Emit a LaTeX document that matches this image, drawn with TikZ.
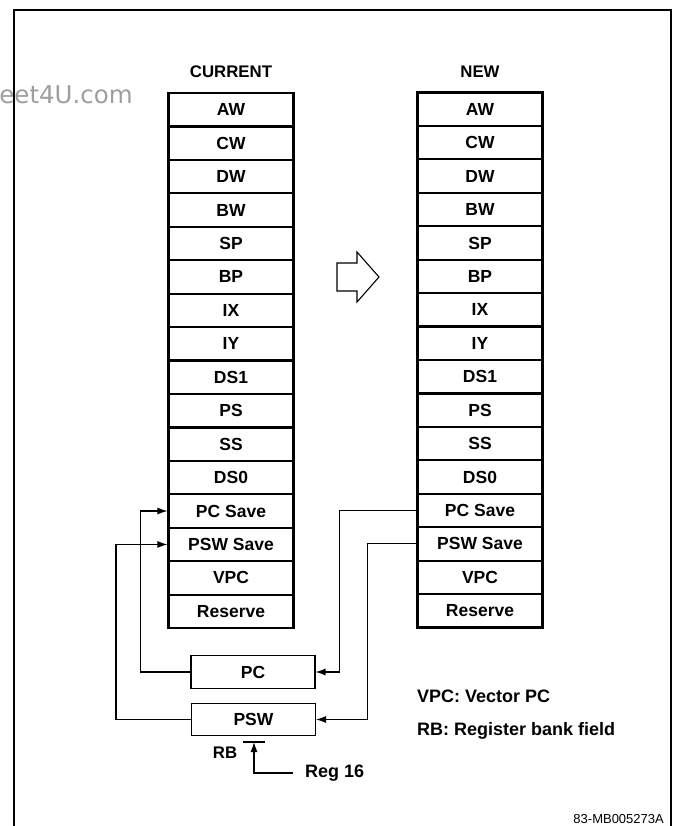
\documentclass[tikz,border=0pt]{standalone}
\usepackage{fontspec}
\setmainfont{Liberation Sans}
\newfontfamily\wmfont{DejaVu Sans}
\usetikzlibrary{arrows.meta}
\begin{document}
\begin{tikzpicture}[x=1pt,y=-1pt,
  reg/.style={draw,line width=2.2pt,minimum width=125pt,minimum height=33.44pt,inner sep=0pt,font=\bfseries\fontsize{17.5}{19}\selectfont},
  smallbox/.style={draw,line width=1.1pt,minimum width=124pt,minimum height=32.5pt,inner sep=0pt,font=\bfseries\fontsize{17.5}{19}\selectfont},
  conn/.style={line width=1.1pt,-{Latex[length=10pt,width=7pt]}},
  lbl/.style={font=\bfseries\fontsize{16.8}{18}\selectfont,inner sep=0pt},
  legend/.style={font=\bfseries\fontsize{18}{20}\selectfont,inner sep=0pt}
]
\useasboundingbox (0,0) rectangle (673,826);
\draw[line width=1.5pt] (14,826) -- (14,10) -- (671,10) -- (671,826);
\node[anchor=base east, text=black!38, font=\wmfont\fontsize{24.5}{26}\selectfont, inner sep=0pt] (wm) at (133,104) {eet4U.com};
\node[lbl] (cur) at (231,72) {CURRENT};
\node[lbl] (new) at (480,72) {NEW};
\foreach [count=\i from 0] \t in {AW,CW,DW,BW,SP,BP,IX,IY,DS1,PS,SS,DS0,PC Save,PSW Save,VPC,Reserve} {
  \node[reg] (L\i) at (231,{93+33.44*(\i+0.5)}) {\t};
  \node[reg] (R\i) at (480,{92.5+33.44*(\i+0.5)}) {\t};
}
\draw[line width=1.1pt, line join=miter] (337,263) -- (357,263) -- (357,252) -- (379,277) -- (357,302) -- (357,291) -- (337,291) -- cycle;
\node[smallbox] (pc) at (253,672) {PC};
\node[smallbox] (psw) at (253.5,719.5) {PSW};
\draw[conn] (pc.west) -- ++(-50,0) |- (L12.west);
\draw[conn] (psw.west) -- ++(-75,0) |- (L13.west);
\draw[conn] (R12.west) -- ++(-77,0) |- (pc.east);
\draw[conn] (R13.west) -- ++(-49,0) |- (psw.east);
\node[lbl, anchor=base] (rb) at (225,758) {RB};
\coordinate (rbl) at (243,742);
\coordinate (rbr) at (265,742);
\coordinate (rbm) at (254,742);
\draw[line width=1.1pt] (rbl) -- (rbr);
\node[legend, anchor=west] (reg) at (305,773) {Reg 16};
\draw[conn] ([xshift=-12pt]reg.west) -| (rbm);
\node[legend, anchor=base west] (vpc) at (417,702) {VPC: Vector PC};
\node[legend, anchor=base west] (rbf) at (417,735) {RB: Register bank field};
\node[anchor=base east, font=\fontsize{13}{15}\selectfont, inner sep=0pt] (code) at (664,823) {83-MB005273A};
\end{tikzpicture}
\end{document}
